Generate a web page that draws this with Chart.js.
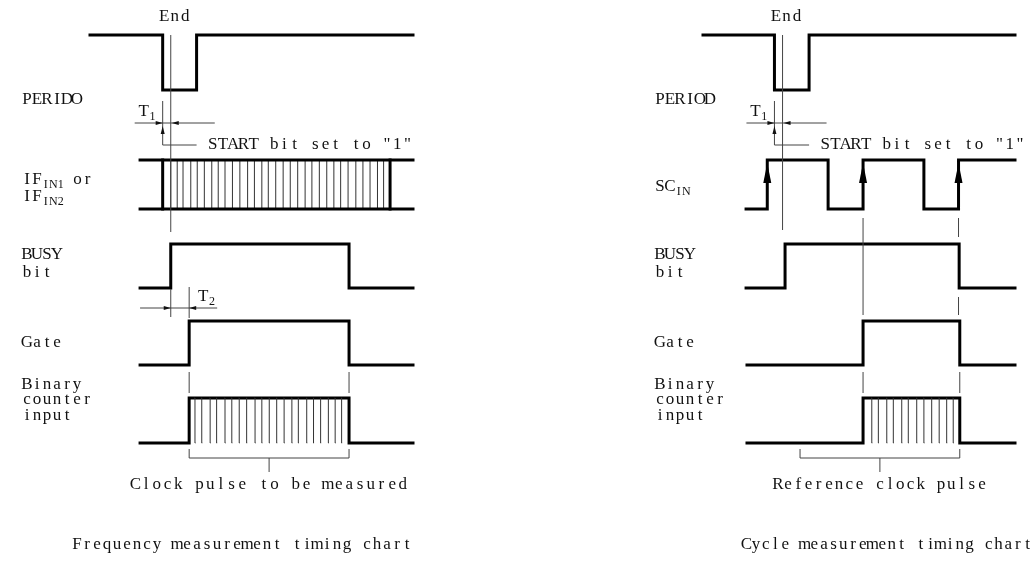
<!DOCTYPE html>
<html>
<head>
<meta charset="utf-8">
<script src="https://cdn.jsdelivr.net/npm/chart.js@4"></script>
<style>
  html, body { margin: 0; padding: 0; background: #fff; }
  #wrap { width: 1036px; height: 565px; position: relative; }
</style>
</head>
<body>
<div id="wrap"><canvas id="timing"></canvas></div>
<script>
// time axis: each panel runs 0..100 (arbitrary units), levels 0 = low, 1 = high

// frequency measurement (left)
var freqPeriodT = [0, 22.5, 33, 100];
var freqPeriodL = [1, 0, 1, 1];
var freqEndT = 25;
var freqInSpan = [15.5, 100];
var freqInEdges = [22.5, 92.9];
var freqInPulses = [25.0, 27.0, 28.8, 31.2, 33.2, 35.4, 37.7, 39.7, 41.8, 44.1, 46.4, 48.8,
    50.9, 53.2, 55.2, 57.5, 59.8, 62.0, 64.3, 66.6, 68.7, 71.0, 73.3, 75.5, 77.6, 79.9,
    82.3, 84.5, 86.7, 89.0, 90.9];
var freqBusyT = [15.5, 25, 80.2, 100];
var freqBusyL = [0, 1, 0, 0];
var freqGateT = [15.5, 30.7, 80.2, 100];
var freqGateL = [0, 1, 0, 0];
var freqCountPulses = [32.5, 34.6, 37.2, 39.2, 41.8, 43.9, 46.2, 48.5, 51.1, 53.2, 55.5,
    57.8, 60.1, 62.5, 64.5, 67.1, 69.2, 71.4, 73.8, 75.9, 77.9];

// cycle measurement (right)
var cycPeriodT = [0, 22.9, 34, 100];
var cycPeriodL = [1, 0, 1, 1];
var cycEndT = 25.5;
var cycScT = [13.8, 20.6, 40.1, 51.3, 70.8, 81.9, 100];
var cycScL = [0, 1, 0, 1, 0, 1, 1];
var cycBusyT = [13.8, 26.3, 82.1, 100];
var cycBusyL = [0, 1, 0, 0];
var cycGateT = [14.1, 51.3, 82.3, 100];
var cycGateL = [0, 1, 0, 0];
var cycCountPulses = [54.1, 56.2, 58.9, 61.0, 63.7, 65.8, 68.5, 70.8, 73.3, 75.7, 78.1, 80.2];
var cycBracket = [31.1, 82.3];

// layout (pixels)
var W = 1036, H = 565;
var panelLeft = [90, 413], panelRight = [703, 1015];
var rowPx = [[90, 35], [209, 160], [288, 244], [365, 321], [443, 398]]; // [low, high]

function steps(times, levels) {
    return times.map(function (t, i) { return { x: t, y: levels[i] }; });
}
function pulses(times) {
    var pts = [];
    times.forEach(function (t) {
        pts.push({ x: t, y: 0 }, { x: t, y: 1 }, { x: t, y: null });
    });
    return pts;
}
function wave(data, xAxis, row) {
    return { data: data, xAxisID: xAxis, yAxisID: 'r' + row, stepped: true,
        borderColor: '#000', borderWidth: 3, pointRadius: 0, fill: false };
}
function hatch(data, xAxis, row) {
    return { data: data, xAxisID: xAxis, yAxisID: 'r' + row, stepped: false,
        borderColor: '#333', borderWidth: 1, pointRadius: 0, fill: false, spanGaps: false };
}
function xScale(px) {
    var k = (px[1] - px[0]) / 100;
    return { type: 'linear', axis: 'x', position: 'bottom', display: false, min: -px[0] / k, max: (W - px[0]) / k };
}
function rowScale(r) {
    var lo = rowPx[r][0], hi = rowPx[r][1], k = lo - hi;
    return { type: 'linear', axis: 'y', position: 'left', display: false, min: -(H - lo) / k, max: lo / k };
}

var datasets = [
    wave(steps(freqPeriodT, freqPeriodL), 'xL', 0),
    wave(steps(freqInSpan, [1, 1]), 'xL', 1),
    wave(steps(freqInSpan, [0, 0]), 'xL', 1),
    wave(pulses(freqInEdges), 'xL', 1),
    hatch(pulses(freqInPulses), 'xL', 1),
    wave(steps(freqBusyT, freqBusyL), 'xL', 2),
    wave(steps(freqGateT, freqGateL), 'xL', 3),
    hatch(pulses(freqCountPulses), 'xL', 4),
    wave(steps(freqGateT, freqGateL), 'xL', 4),

    wave(steps(cycPeriodT, cycPeriodL), 'xR', 0),
    wave(steps(cycScT, cycScL), 'xR', 1),
    wave(steps(cycBusyT, cycBusyL), 'xR', 2),
    wave(steps(cycGateT, cycGateL), 'xR', 3),
    hatch(pulses(cycCountPulses), 'xR', 4),
    wave(steps(cycGateT, cycGateL), 'xR', 4)
];

var FONT = '17px "Liberation Serif", "DejaVu Serif", serif';
var SUB = '12px "Liberation Serif", "DejaVu Serif", serif';

// fixed-pitch drawing so the serif text keeps the plotter-style spacing
function mono(ctx, str, x, y, cell, align) {
    var w = str.length * cell;
    var x0 = align === 'center' ? x - w / 2 : (align === 'right' ? x - w : x);
    ctx.textAlign = 'center';
    for (var i = 0; i < str.length; i++) ctx.fillText(str[i], x0 + cell * (i + 0.5), y);
    return x0 + w;
}

var diagram = {
    id: 'diagram',
    beforeDraw: function (chart) {
        var ctx = chart.ctx;
        ctx.save();
        ctx.fillStyle = '#fff';
        ctx.fillRect(0, 0, chart.width, chart.height);
        ctx.restore();
    },
    afterDatasetsDraw: function (chart) {
        var ctx = chart.ctx, s = chart.scales;
        function X(ax, t) { return s[ax].getPixelForValue(t); }
        function Y(r, l) { return s['r' + r].getPixelForValue(l); }
        function seg(x1, y1, x2, y2) {
            ctx.beginPath(); ctx.moveTo(x1, y1); ctx.lineTo(x2, y2); ctx.stroke();
        }
        function arrow(x, y, dx, dy, len, half) {
            ctx.beginPath();
            ctx.moveTo(x, y);
            ctx.lineTo(x - dx * len - dy * half, y - dy * len - dx * half);
            ctx.lineTo(x - dx * len + dy * half, y - dy * len + dx * half);
            ctx.closePath(); ctx.fill();
        }
        function sub(main, subText, x, y, cell) {
            ctx.font = FONT;
            var e = mono(ctx, main, x, y, cell, 'left');
            ctx.font = SUB;
            e = mono(ctx, subText, e, y + 5, 7.5, 'left');
            ctx.font = FONT;
            return e;
        }

        ctx.save();
        ctx.strokeStyle = '#444';
        ctx.fillStyle = '#111';
        ctx.lineWidth = 1;
        ctx.textBaseline = 'middle';
        ctx.font = FONT;

        // ---- shared top part (PERIOD, T1, START)
        [['xL', freqEndT, freqPeriodT], ['xR', cycEndT, cycPeriodT]].forEach(function (p) {
            var ax = p[0], tEnd = X(ax, p[1]), tFall = X(ax, p[2][1]), tRise = X(ax, p[2][2]);
            var base = Y(0, 0);
            seg(tEnd, Y(0, 1), tEnd, ax === 'xL' ? Y(2, 1) - 12 : Y(1, 0) + 21);
            mono(ctx, 'End', tEnd + 4, Y(0, 1) - 18, 10.5, 'center');
            // T1 dimension
            seg(tFall, base + 11, tFall, base + 55);
            seg(tFall - 28, base + 33, tEnd + 44, base + 33);
            arrow(tFall, base + 33, 1, 0, 7, 2);
            arrow(tEnd + 1, base + 33, -1, 0, 7, 2);
            arrow(tFall, base + 36, 0, -1, 8, 2);
            sub('T', '1', tFall - 24, base + 22, 10);
            // START bit
            seg(tFall, base + 55, tRise, base + 55);
            mono(ctx, 'START bit set to "1"', tRise + 11, base + 55, 10.25, 'left');
        });

        // ---- left labels
        var lx = 22;
        mono(ctx, 'PERIDO', lx, Y(0, 0) + 10, 10, 'left');
        var e = sub('IF', 'IN1', lx, Y(1, 0.6), 10);
        mono(ctx, 'or', e + 8, Y(1, 0.6), 10, 'left');
        sub('IF', 'IN2', lx, Y(1, 0.25), 10);
        mono(ctx, 'BUSY', lx, Y(2, 0.75), 10, 'left');
        mono(ctx, 'bit', lx, Y(2, 0.35), 10, 'left');
        mono(ctx, 'Gate', lx, Y(3, 0.5), 10, 'left');
        mono(ctx, 'Binary', lx, Y(4, 1.3), 10, 'left');
        mono(ctx, 'counter', lx, Y(4, 0.97), 10, 'left');
        mono(ctx, 'input', lx, Y(4, 0.62), 10, 'left');

        // ---- right labels
        var rx = 655;
        mono(ctx, 'PERIOD', rx, Y(0, 0) + 10, 10, 'left');
        sub('SC', 'IN', rx, Y(1, 0.45), 10);
        mono(ctx, 'BUSY', rx, Y(2, 0.75), 10, 'left');
        mono(ctx, 'bit', rx, Y(2, 0.35), 10, 'left');
        mono(ctx, 'Gate', rx, Y(3, 0.5), 10, 'left');
        mono(ctx, 'Binary', rx, Y(4, 1.3), 10, 'left');
        mono(ctx, 'counter', rx, Y(4, 0.97), 10, 'left');
        mono(ctx, 'input', rx, Y(4, 0.62), 10, 'left');

        // ---- T2 (left)
        var b2 = Y(2, 0), tb = X('xL', freqBusyT[1]), tg = X('xL', freqGateT[1]);
        seg(X('xL', freqInSpan[0]), b2 + 20, tg + 28, b2 + 20);
        seg(tb, b2 + 1, tb, b2 + 29);
        seg(tg, b2 - 1, tg, b2 + 30);
        arrow(tb, b2 + 20, 1, 0, 7, 2);
        arrow(tg, b2 + 20, -1, 0, 7, 2);
        sub('T', '2', tg + 9, b2 + 9, 10);

        // ---- connectors gate -> counter
        [X('xL', freqGateT[1]), X('xL', freqGateT[2]), X('xR', cycGateT[1]), X('xR', cycGateT[2])]
            .forEach(function (x) { seg(x, Y(3, 0) + 7, x, Y(4, 1) - 5); });
        // SC_IN -> gate (right)
        var g1 = X('xR', cycGateT[1]), g2 = X('xR', cycScT[5]);
        seg(g1, Y(1, 0) + 9, g1, Y(3, 1) - 6);
        seg(g2, Y(1, 0) + 9, g2, Y(1, 0) + 28);
        seg(g2, Y(2, 0) + 9, g2, Y(3, 1) - 6);

        // SC_IN rising-edge arrows
        ctx.fillStyle = '#000';
        cycScT.forEach(function (t, i) {
            if (i > 0 && cycScL[i] === 1 && cycScL[i - 1] === 0) arrow(X('xR', t), Y(1, 1) + 3, 0, -1, 20, 4);
        });
        ctx.fillStyle = '#111';

        // ---- brackets
        [['xL', freqGateT[1], freqGateT[2], 'Clock pulse to be measured', 10.7],
         ['xR', cycBracket[0], cycBracket[1], 'Reference clock pulse', 10.2]].forEach(function (b) {
            var x1 = X(b[0], b[1]), x2 = X(b[0], b[2]), yb = Y(4, 0) + 15, xm = (x1 + x2) / 2;
            seg(x1, yb - 9, x1, yb); seg(x1, yb, x2, yb); seg(x2, yb - 9, x2, yb);
            seg(xm, yb, xm, yb + 14);
            mono(ctx, b[3], xm, yb + 27, b[4], 'center');
        });

        // ---- titles
        mono(ctx, 'Frequency measurement timing chart', 242, 545, 10, 'center');
        mono(ctx, 'Cycle measurement timing chart', 887, 545, 9.7, 'center');
        ctx.restore();
    }
};

var scales = { xL: xScale(panelLeft), xR: xScale(panelRight) };
rowPx.forEach(function (r, i) { scales['r' + i] = rowScale(i); });

new Chart(document.getElementById('timing').getContext('2d'), {
    type: 'line',
    data: { datasets: datasets },
    options: {
        responsive: true,
        maintainAspectRatio: false,
        animation: false,
        layout: { padding: 0 },
        plugins: { legend: { display: false }, tooltip: { enabled: false }, title: { display: false } },
        elements: { line: { tension: 0, borderCapStyle: 'square', borderJoinStyle: 'miter' } },
        scales: scales
    },
    plugins: [diagram]
});
</script>
</body>
</html>
